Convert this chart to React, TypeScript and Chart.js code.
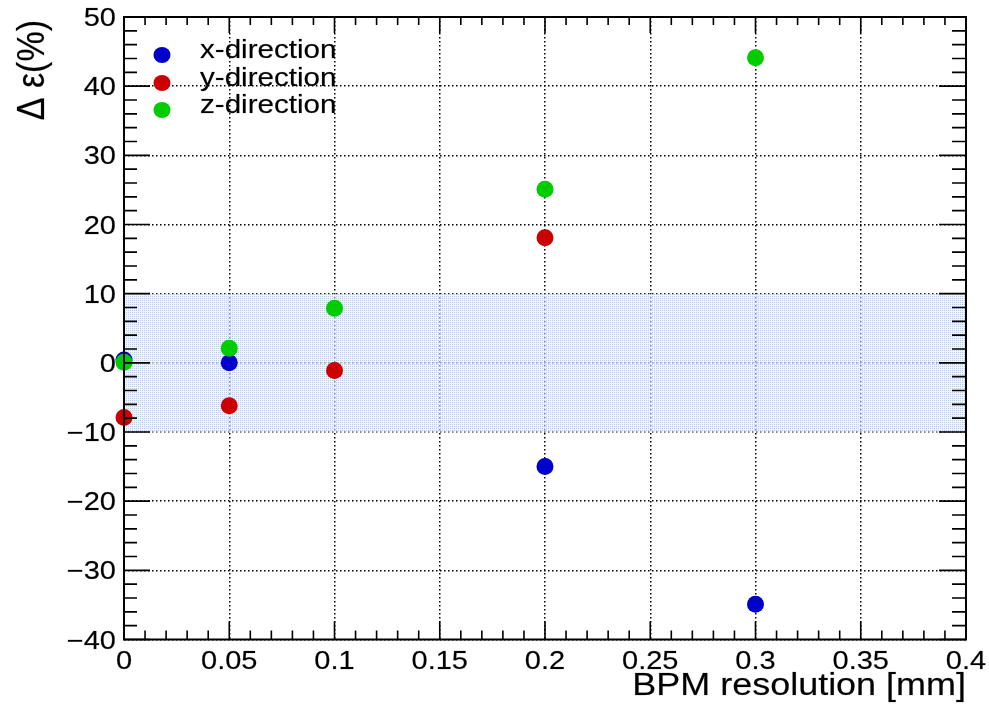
import React, { useEffect, useRef } from "react";
import { Chart, registerables } from "chart.js";

Chart.register(...registerables);

// ---- data ----
const seriesLabels = ["x-direction", "y-direction", "z-direction"];
const seriesColors = ["#0000cc", "#cc0000", "#00cc00"];
const xDirX = [0, 0.05, 0.2, 0.3];
const xDirY = [0.4, 0.0, -15.0, -34.9];
const yDirX = [0, 0.05, 0.1, 0.2];
const yDirY = [-7.9, -6.2, -1.1, 18.1];
const zDirX = [0, 0.05, 0.1, 0.2, 0.3];
const zDirY = [0.1, 2.1, 7.9, 25.1, 44.1];
const bandX = [0, 0.4];
const bandUpper = [10, 10];
const bandLower = -10;

const xAxisTitle = "BPM resolution [mm]";
const yAxisTitle = "\u0394 \u03b5(%)";
const xMin = 0, xMax = 0.4, xStep = 0.05, xMinorStep = 0.01;
const yMin = -40, yMax = 50, yStep = 10, yMinorStep = 2;

const FONT = "'Liberation Sans', Arial, Helvetica, sans-serif";
const STRETCH = 1.16;

function drawText(ctx: CanvasRenderingContext2D, text: string, x: number, y: number, size: number,
  align: CanvasTextAlign, baseline: CanvasTextBaseline, rotate = false) {
  ctx.save();
  ctx.translate(x, y);
  ctx.scale(STRETCH, 1);
  if (rotate) ctx.rotate(-Math.PI / 2);
  ctx.font = `${size}px ${FONT}`;
  ctx.fillStyle = "#000";
  ctx.strokeStyle = "rgba(0,0,0,0.35)";
  ctx.lineWidth = 0.5;
  ctx.textAlign = align;
  ctx.textBaseline = baseline;
  ctx.fillText(text, 0, 0);
  ctx.strokeText(text, 0, 0);
  ctx.restore();
}

const fmtX = (v: number) => Number(v.toFixed(3)).toString();
const fmtY = (v: number) => (v < 0 ? "\u2212" + Math.abs(v) : String(v));

const rootStyle = {
  id: "rootStyle",
  afterDraw(chart: any) {
    const ctx: CanvasRenderingContext2D = chart.ctx;
    const ca = chart.chartArea;
    const xs = chart.scales.x;
    const ys = chart.scales.y;
    ctx.save();
    ctx.strokeStyle = "#000";
    ctx.lineWidth = 2;
    ctx.setLineDash([]);
    ctx.strokeRect(ca.left, ca.top, ca.right - ca.left, ca.bottom - ca.top);
    ctx.lineWidth = 1.6;
    // x ticks (inside)
    const nx = Math.round((xMax - xMin) / xMinorStep);
    for (let i = 0; i <= nx; i++) {
      const v = xMin + i * xMinorStep;
      const major = i % Math.round(xStep / xMinorStep) === 0;
      const px = xs.getPixelForValue(v);
      ctx.beginPath();
      ctx.moveTo(px, ca.bottom);
      ctx.lineTo(px, ca.bottom - (major ? 18 : 9));
      ctx.moveTo(px, ca.top);
      ctx.lineTo(px, ca.top + (major ? 16 : 8));
      ctx.stroke();
    }
    const ny = Math.round((yMax - yMin) / yMinorStep);
    for (let i = 0; i <= ny; i++) {
      const v = yMin + i * yMinorStep;
      const major = i % Math.round(yStep / yMinorStep) === 0;
      const py = ys.getPixelForValue(v);
      ctx.beginPath();
      ctx.moveTo(ca.left, py);
      ctx.lineTo(ca.left + (major ? 26 : 13), py);
      ctx.moveTo(ca.right, py);
      ctx.lineTo(ca.right - (major ? 27 : 14), py);
      ctx.stroke();
    }
    ctx.restore();

    // tick labels
    xs.ticks.forEach((t: any) => {
      drawText(ctx, fmtX(t.value), xs.getPixelForValue(t.value), 669, 25, "center", "alphabetic");
    });
    ys.ticks.forEach((t: any) => {
      drawText(ctx, fmtY(t.value), ca.left - 8, ys.getPixelForValue(t.value) + 9, 25, "right", "alphabetic");
    });

    // axis titles
    drawText(ctx, xAxisTitle, ca.right, 695, 31, "right", "alphabetic");
    drawText(ctx, yAxisTitle, 44, ca.top + 3, 34, "right", "alphabetic", true);

    // legend
    const baselines = [58, 86, 113];
    seriesLabels.forEach((lab, i) => {
      ctx.save();
      ctx.fillStyle = seriesColors[i];
      ctx.beginPath();
      ctx.ellipse(162, baselines[i] - 3, 8.5, 8, 0, 0, Math.PI * 2);
      ctx.fill();
      ctx.restore();
      drawText(ctx, lab, 200, baselines[i], 25.5, "left", "alphabetic");
    });
  },
};

export default function App() {
  const ref = useRef<HTMLCanvasElement | null>(null);
  useEffect(() => {
    document.body.style.margin = "0";
    const canvas = ref.current!;
    // dotted light-blue fill pattern for the +-10% band
    const pc = document.createElement("canvas");
    pc.width = 2;
    pc.height = 2;
    const pctx = pc.getContext("2d")!;
    pctx.fillStyle = "rgba(228,236,246,0.6)";
    pctx.fillRect(0, 0, 2, 2);
    pctx.fillStyle = "rgba(150,188,228,0.65)";
    pctx.fillRect(0, 0, 1, 1);
    const pattern = canvas.getContext("2d")!.createPattern(pc, "repeat")!;

    const mk = (xs: number[], ys: number[]) => xs.map((x, i) => ({ x, y: ys[i] }));
    const series = [mk(xDirX, xDirY), mk(yDirX, yDirY), mk(zDirX, zDirY)];
    const scatterSets = series.map((d, i) => ({
      type: "scatter" as const,
      label: seriesLabels[i],
      data: d,
      backgroundColor: seriesColors[i],
      borderColor: seriesColors[i],
      borderWidth: 0,
      pointRadius: 8.5,
      pointHoverRadius: 8.5,
      clip: false as any,
      order: 3 - i,
    }));

    const chart = new Chart(canvas, {
      type: "scatter",
      data: {
        datasets: [
          {
            type: "line",
            label: "band",
            data: mk(bandX, bandUpper),
            fill: { value: bandLower },
            backgroundColor: pattern as any,
            borderWidth: 0,
            borderColor: "rgba(0,0,0,0)",
            pointRadius: 0,
            order: 10,
          } as any,
          ...scatterSets,
        ],
      },
      options: {
        animation: false,
        responsive: true,
        maintainAspectRatio: false,
        layout: { padding: { left: 0, top: 17, right: 23, bottom: 0 } },
        plugins: { legend: { display: false }, tooltip: { enabled: false } },
        events: [],
        scales: {
          x: {
            type: "linear",
            min: xMin,
            max: xMax,
            ticks: { stepSize: xStep, display: false },
            grid: { color: "#000", lineWidth: 1.5, drawTicks: false },
            border: { display: false, dash: [1.5, 2.5] },
            afterFit: (s: any) => { s.height = 81.5; },
          },
          y: {
            type: "linear",
            min: yMin,
            max: yMax,
            ticks: { stepSize: yStep, display: false },
            grid: { color: "#000", lineWidth: 1.5, drawTicks: false },
            border: { display: false, dash: [1.5, 2.5] },
            afterFit: (s: any) => { s.width = 124; },
          },
        },
      },
      plugins: [rootStyle],
    });
    return () => chart.destroy();
  }, []);
  return (
    <div style={{ position: "fixed", left: 0, top: 0, width: 989, height: 721, background: "#fff" }}>
      <canvas ref={ref} />
    </div>
  );
}
